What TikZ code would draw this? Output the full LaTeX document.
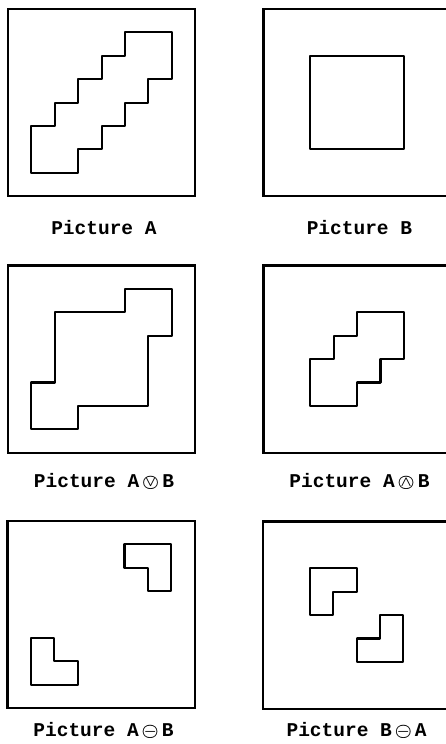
\documentclass[tikz,border=0pt]{standalone}
\usepackage{fontspec}
\setmonofont{Liberation Mono}
\usetikzlibrary{positioning}
\tikzset{
  picframe/.style={draw, line width=2.2pt},
  picregion/.style={draw, line width=2.1pt, line join=round},
  piccaption/.style={anchor=base, inner sep=0pt, font=\ttfamily\bfseries\fontsize{19.5}{22}\selectfont},
}
\newcommand{\circop}[1]{\raisebox{1.6pt}{\fontsize{14.5}{14.5}\selectfont\boldmath\ooalign{$\bigcirc$\cr\hidewidth$#1$\hidewidth\cr}}}

\begin{document}
\begin{tikzpicture}[x=1pt, y=-1pt]
  \def\u{23.4}
  \useasboundingbox (0,0) rectangle (446,744);
  \clip (0,0) rectangle (446,744);
  \begin{scope}[shift={(8,9)}, x=\u pt, y=-\u pt]
    \draw[picframe] (0,0) rectangle (8,8);
    \draw[picregion] (5,1) -- (7,1) -- (7,3) -- (6,3) -- (6,4) -- (5,4) -- (5,5) -- (4,5) -- (4,6) -- (3,6) -- (3,7) -- (1,7) -- (1,5) -- (2,5) -- (2,4) -- (3,4) -- (3,3) -- (4,3) -- (4,2) -- (5,2) -- cycle;
    \node[piccaption] (capA) at (4.1,9.65) {Picture A};
  \end{scope}
  \begin{scope}[shift={(263.5,9)}, x=\u pt, y=-\u pt]
    \draw[picframe] (0,0) rectangle (8,8);
    \draw[picregion] (2,2) rectangle (6,6);
    \node[piccaption] (capB) at (4.1,9.65) {Picture B};
  \end{scope}
  \begin{scope}[shift={(8,265.5)}, x=\u pt, y=-\u pt]
    \draw[picframe] (0,0) rectangle (8,8);
    \draw[picregion] (5,1) -- (7,1) -- (7,3) -- (6,3) -- (6,6) -- (3,6) -- (3,7) -- (1,7) -- (1,5) -- (2,5) -- (2,2) -- (5,2) -- cycle;
    \node[piccaption] (capOr) at (4.1,9.5) {Picture A\,\circop{\vee}\,B};
  \end{scope}
  \begin{scope}[shift={(263.5,265.5)}, x=\u pt, y=-\u pt]
    \draw[picframe] (0,0) rectangle (8,8);
    \draw[picregion] (4,2) -- (6,2) -- (6,4) -- (5,4) -- (5,5) -- (4,5) -- (4,6) -- (2,6) -- (2,4) -- (3,4) -- (3,3) -- (4,3) -- cycle;
    \node[piccaption] (capAnd) at (4.1,9.5) {Picture A\,\circop{\wedge}\,B};
  \end{scope}
  \begin{scope}[shift={(7.5,521)}, x=\u pt, y=-\u pt]
    \draw[picframe] (0,0) rectangle (8,8);
    \draw[picregion] (5,1) -- (7,1) -- (7,3) -- (6,3) -- (6,2) -- (5,2) -- cycle;
    \draw[picregion] (1,5) -- (2,5) -- (2,6) -- (3,6) -- (3,7) -- (1,7) -- cycle;
    \node[piccaption] (capAmB) at (4.1,9.22) {Picture A\,\circop{-}\,B};
  \end{scope}
  \begin{scope}[shift={(263,521.5)}, x=\u pt, y=-\u pt]
    \draw[picframe] (0,0) rectangle (8,8);
    \draw[picregion] (2,2) -- (4,2) -- (4,3) -- (3,3) -- (3,4) -- (2,4) -- cycle;
    \draw[picregion] (5,4) -- (6,4) -- (6,6) -- (4,6) -- (4,5) -- (5,5) -- cycle;
    \node[piccaption] (capBmA) at (4.0,9.2) {Picture B\,\circop{-}\,A};
  \end{scope}
\end{tikzpicture}
\end{document}
